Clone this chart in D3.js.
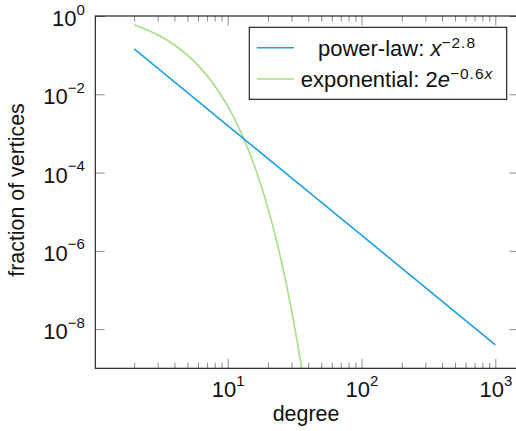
<!DOCTYPE html>
<html>
<head>
<meta charset="utf-8">
<script src="https://cdn.jsdelivr.net/npm/d3@7"></script>
<style>
  html, body { margin: 0; padding: 0; background: #fff; }
  svg { display: block; }
  text { font-family: "Liberation Sans", Arial, Helvetica, sans-serif; fill: #111; }
</style>
</head>
<body>
<svg id="chart" width="516" height="431"></svg>
<script>
// Degree distributions: power-law x^-2.8 vs exponential 2e^-0.6x
const powerDegrees = [2, 10, 100, 1000];
const powerValues  = [0.1436, 1.585e-3, 2.512e-6, 3.981e-9];

const expDegrees = [2, 3, 4, 5, 6, 7, 8, 9, 10, 12, 14, 16, 18, 20, 22, 24, 26, 28, 30, 32, 34, 36];
const expValues  = [0.602, 0.3306, 0.1814, 0.09957, 0.05465, 0.02999, 0.01646, 0.009033, 0.004958,
                    0.001493, 4.497e-4, 1.355e-4, 4.080e-5, 1.229e-5, 3.701e-6, 1.115e-6,
                    3.358e-7, 1.011e-7, 3.046e-8, 9.175e-9, 2.763e-9, 8.323e-10];

const xMajorTicks = [10, 100, 1000];
const xMinorTicks = [2, 3, 4, 5, 6, 7, 8, 9, 20, 30, 40, 50, 60, 70, 80, 90,
                     200, 300, 400, 500, 600, 700, 800, 900];
const xTickExponents = ["1", "2", "3"];

const yMajorTicks = [1, 1e-2, 1e-4, 1e-6, 1e-8];
const yTickExponents = ["0", "\u22122", "\u22124", "\u22126", "\u22128"];

const seriesColors = ["#1ba1e2", "#a8dc86"];
// legend label pieces: [text, italic?, superscript?]
const legendLabels = [
  [["power-law: ", false, false], ["x", true, false], ["\u22122.8", false, true]],
  [["exponential: 2", false, false], ["e", true, false], ["\u22120.6", false, true], ["x", true, true]]
];

const xLabel = "degree";
const yLabel = "fraction of vertices";

// ---- layout ----
const plot = { left: 95.3, right: 519, top: 16, bottom: 368.3 };
const tickFont = 22, tickSup = 15;
const labelFont = 21.4;
const legendFont = 22, legendSup = 15.5;

const svg = d3.select("#chart");

const x = d3.scaleLog().domain([1.025, 1503]).range([plot.left, plot.right]);
const y = d3.scaleLog().domain([1e-9, 1]).range([plot.bottom, plot.top]);

// clip for curves
svg.append("clipPath").attr("id", "plot-clip")
  .append("rect")
  .attr("x", plot.left).attr("y", plot.top)
  .attr("width", plot.right - plot.left).attr("height", plot.bottom - plot.top);

// ---- axes (ticks point inward on all four sides) ----
const majorLen = 9.5, minorLen = 5.5;
function styleAxis(g) {
  g.select(".domain").remove();
  g.selectAll(".tick line").attr("stroke", "#8a8a8a").attr("stroke-width", 1);
}
const axes = svg.append("g");
axes.append("g").attr("transform", `translate(0,${plot.bottom})`)
  .call(d3.axisBottom(x).tickValues(xMajorTicks).tickSize(-majorLen).tickFormat("")).call(styleAxis);
axes.append("g").attr("transform", `translate(0,${plot.bottom})`)
  .call(d3.axisBottom(x).tickValues(xMinorTicks).tickSize(-minorLen).tickFormat("")).call(styleAxis);
axes.append("g").attr("transform", `translate(0,${plot.top})`)
  .call(d3.axisTop(x).tickValues(xMajorTicks).tickSize(-majorLen).tickFormat("")).call(styleAxis);
axes.append("g").attr("transform", `translate(0,${plot.top})`)
  .call(d3.axisTop(x).tickValues(xMinorTicks).tickSize(-minorLen).tickFormat("")).call(styleAxis);
axes.append("g").attr("transform", `translate(${plot.left},0)`)
  .call(d3.axisLeft(y).tickValues(yMajorTicks).tickSize(-majorLen).tickFormat("")).call(styleAxis);
axes.append("g").attr("transform", `translate(${plot.right},0)`)
  .call(d3.axisRight(y).tickValues(yMajorTicks).tickSize(-majorLen).tickFormat("")).call(styleAxis);

// ---- curves ----
const line = d3.line()
  .x(d => x(d[0]))
  .y(d => y(d[1]))
  .curve(d3.curveMonotoneX);

const curves = svg.append("g").attr("clip-path", "url(#plot-clip)");
curves.append("path")
  .datum(expDegrees.map((d, i) => [d, expValues[i]]))
  .attr("d", line).attr("fill", "none")
  .attr("stroke", seriesColors[1]).attr("stroke-width", 1.6);
curves.append("path")
  .datum(powerDegrees.map((d, i) => [d, powerValues[i]]))
  .attr("d", line).attr("fill", "none")
  .attr("stroke", seriesColors[0]).attr("stroke-width", 1.6);

// ---- frame ----
svg.append("rect")
  .attr("x", plot.left).attr("y", plot.top)
  .attr("width", plot.right - plot.left).attr("height", plot.bottom - plot.top)
  .attr("fill", "none").attr("stroke", "#111").attr("stroke-width", 1.1);

// ---- tick labels 10^n ----
function powerLabel(sel, exp, supShift) {
  sel.append("tspan").attr("font-size", tickFont).text("10");
  sel.append("tspan").attr("font-size", tickSup).attr("dy", -supShift).text(exp);
}
xMajorTicks.forEach((v, i) => {
  svg.append("text")
    .attr("x", x(v) + 0.5).attr("y", plot.bottom + 28.4)
    .attr("text-anchor", "middle")
    .call(powerLabel, xTickExponents[i], 10.5);
});
yMajorTicks.forEach((v, i) => {
  svg.append("text")
    .attr("x", plot.left - 10.5).attr("y", y(v) + 10)
    .attr("text-anchor", "end")
    .call(powerLabel, yTickExponents[i], 11.5);
});

// ---- axis titles ----
svg.append("text")
  .attr("x", 306).attr("y", 421)
  .attr("text-anchor", "middle").attr("font-size", labelFont)
  .text(xLabel);
svg.append("text")
  .attr("transform", "translate(24,190) rotate(-90)")
  .attr("text-anchor", "middle").attr("font-size", labelFont)
  .text(yLabel);

// ---- legend ----
const legend = svg.append("g");
legend.append("rect")
  .attr("x", 249.3).attr("y", 27.3).attr("width", 257.4).attr("height", 72)
  .attr("fill", "#fff").attr("stroke", "#111").attr("stroke-width", 1.1);
const rowY = [47.7, 79];
legendLabels.forEach((parts, i) => {
  legend.append("line")
    .attr("x1", 256.7).attr("x2", 294).attr("y1", rowY[i]).attr("y2", rowY[i])
    .attr("stroke", seriesColors[i]).attr("stroke-width", 1.6);
  const t = legend.append("text")
    .attr("x", 397).attr("y", rowY[i] + 7.8)
    .attr("text-anchor", "middle");
  let raised = false;
  parts.forEach(([txt, italic, sup]) => {
    const ts = t.append("tspan").text(txt)
      .attr("font-size", sup ? legendSup : legendFont)
      .attr("font-style", italic ? "italic" : "normal")
      .attr("letter-spacing", sup ? 1 : 0);
    if (sup && !raised) { ts.attr("dy", -8); raised = true; }
    if (!sup && raised) { ts.attr("dy", 8); raised = false; }
  });
});
</script>
</body>
</html>
